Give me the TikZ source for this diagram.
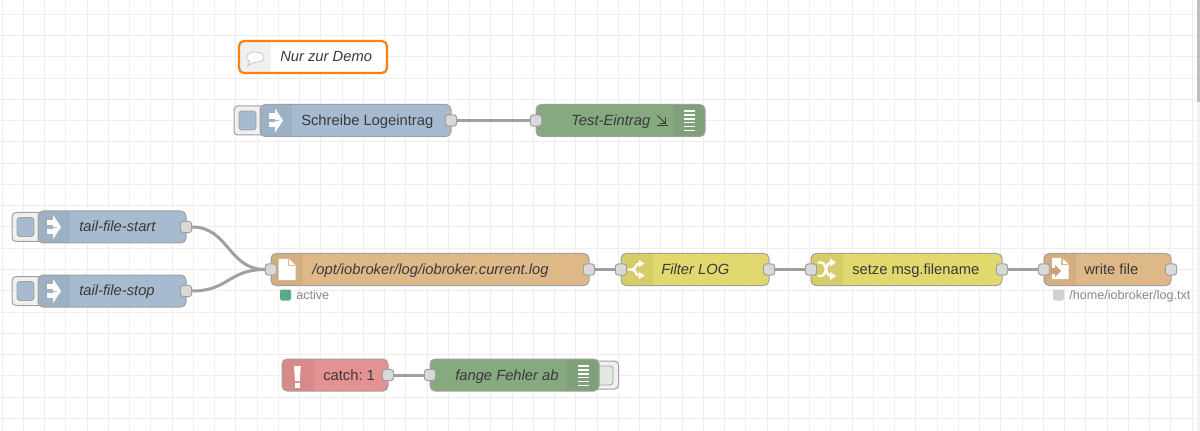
\documentclass[tikz,border=0pt]{standalone}
\usepackage{fontspec}
\setmainfont{Liberation Sans}
\frenchspacing
\definecolor{gridc}{HTML}{EEEEEE}
\definecolor{edgec}{HTML}{A0A0A0}
\definecolor{portc}{HTML}{D9D9D9}
\definecolor{txtc}{HTML}{3A3A3A}
\definecolor{stc}{HTML}{888888}
\definecolor{bluec}{HTML}{A6BBCF}
\definecolor{orgc}{HTML}{DEB887}
\definecolor{yelc}{HTML}{E2D96E}
\definecolor{grnc}{HTML}{87A980}
\definecolor{redc}{HTML}{E49191}
\tikzset{
  flowbody/.style={draw=edgec,line width=0.75pt,rounded corners=3.75pt,inner sep=0pt,outer sep=0pt},
  portbox/.style={draw=edgec,fill=portc,line width=0.75pt,rounded corners=2.4pt,minimum width=8.6pt,minimum height=8.6pt,inner sep=0pt},
  wire/.style={draw=edgec,line width=2.25pt},
  lab/.style={anchor=base west,inner sep=0pt,text=txtc,font=\fontsize{11.06}{13}\selectfont},
  ilab/.style={lab,font=\fontsize{11.06}{13}\selectfont\itshape},
  stlab/.style={anchor=base west,inner sep=0pt,text=stc,font=\fontsize{9.45}{11}\selectfont},
  ico/.style={fill=white,draw=none},
  icol/.style={draw=white,line width=1.3pt,line cap=round},
  stsq/.style={rounded corners=1.5pt,minimum width=8.25pt,minimum height=8.25pt,inner sep=0pt},
  btnout/.style={draw=edgec,fill=white!94!black,line width=0.75pt,rounded corners=3pt},
  btnin/.style={draw=edgec,line width=0.6pt,rounded corners=2.2pt}
}
% name, x1, x2, cy, colour, shade x1, shade x2
\newcommand{\flownode}[7]{%
  \fill[#5,rounded corners=3.75pt] (#2,#4-16) rectangle (#3,#4+16);
  \begin{scope}
    \clip[rounded corners=3.75pt] (#2,#4-16) rectangle (#3,#4+16);
    \fill[black,opacity=0.05] (#6,#4-16) rectangle (#7,#4+16);
  \end{scope}
  \node[flowbody,minimum width={(#3-#2)*0.75pt},minimum height=24pt] (#1) at ({(#2+#3)/2},#4) {};
}
\newcommand{\inject}[2]{% x of body left, cy
  \path[btnout] (#1-26,#2-14.5) rectangle (#1+4,#2+14.5);
  \path[btnin,fill=bluec] (#1-21,#2-9.5) rectangle (#1-4,#2+9.5);
}
\newcommand{\injicon}[2]{% x of icon left, cy
  \fill[ico] (#1+6,#2-12) -- (#1+14,#2) -- (#1+6,#2+12) -- cycle;
  \fill[ico] (#1,#2-7) rectangle (#1+6,#2-1.8);
  \fill[ico] (#1,#2+1.8) rectangle (#1+6,#2+7);
  \draw[draw=bluec,line width=0.5pt] (#1+5.5,#2) -- (#1+10,#2);
}
\newcommand{\dbgicon}[2]{% x left, top y
  \foreach \k in {0,1,2,3,4,5} {\draw[draw=white,line width=1.1pt] (#1,#2+\k*3.9) -- (#1+11,#2+\k*3.9);}
}
\begin{document}
\begin{tikzpicture}[x=0.75pt,y=-0.75pt]
\useasboundingbox (0,0) rectangle (1200,431);
\fill[white] (0,0) rectangle (1200,431);
% grid
\foreach \k in {0,...,56} {\draw[gridc,line width=0.75pt] ({2+21.25*\k},0) -- ({2+21.25*\k},431);}
\foreach \k in {0,...,19} {\draw[gridc,line width=0.75pt] (0,{14.5+21.25*\k}) -- (1200,{14.5+21.25*\k});}
% scrollbar
\fill[white!95!black] (1197,0) rectangle (1200,431);
\fill[black!25] (1197,0) rectangle (1200,102);

% comment
\fill[white,rounded corners=3.75pt] (239,41) rectangle (387,73);
\begin{scope}
  \clip[rounded corners=3.75pt] (239,41) rectangle (387,73);
  \fill[black!6] (239,41) rectangle (271,73);
\end{scope}
\node[draw={rgb,255:red,255;green,127;blue,14},line width=1.6pt,rounded corners=3.75pt,minimum width=111pt,minimum height=24pt,inner sep=0pt] (cmt) at (313,57) {};
\node[ilab] (cmtl) at (280,62) {Nur zur Demo};
\draw[draw=black!20,fill=white,line width=0.7pt] (246.5,57.5) .. controls (246.5,54) and (251,52) .. (255,52) .. controls (260,52) and (264,54) .. (264,57.5) .. controls (264,61) and (259,62.5) .. (254,62.5) -- (247.5,66) -- (250,61.5) .. controls (248,60.5) and (246.5,59) .. (246.5,57.5) -- cycle;

% inject buttons
\inject{260}{120.5}
\inject{38}{227}
\inject{38}{291}
% debug button
\path[btnout] (594,361) rectangle (618.5,389);
\path[btnin,fill=grnc!25!white] (596,366) rectangle (613,385);

\flownode{sl}{260}{451}{120.5}{bluec}{260}{292}
\flownode{te}{536}{705}{120.5}{grnc}{673}{705}
\flownode{ts}{38}{186}{227}{bluec}{38}{70}
\flownode{tp}{38}{186}{291}{bluec}{38}{70}
\flownode{of}{271}{589}{269.5}{orgc}{271}{303}
\flownode{fl}{621}{769}{269.5}{yelc}{621}{653}
\flownode{sm}{811}{1002}{269.5}{yelc}{811}{843}
\flownode{wf}{1044}{1171}{269.5}{orgc}{1044}{1076}
\flownode{ca}{282}{388}{375}{redc}{282}{314}
\flownode{ff}{430}{599}{375}{grnc}{567}{599}

% ports
\node[portbox] (slo) at (451,120.5) {};
\node[portbox] (tei) at (536,120.5) {};
\node[portbox] (tso) at (186,227) {};
\node[portbox] (tpo) at (186,291) {};
\node[portbox] (ofi) at (271,269.5) {};
\node[portbox] (ofo) at (589,269.5) {};
\node[portbox] (fli) at (621,269.5) {};
\node[portbox] (flo) at (769,269.5) {};
\node[portbox] (smi) at (811,269.5) {};
\node[portbox] (smo) at (1002,269.5) {};
\node[portbox] (wfi) at (1044,269.5) {};
\node[portbox] (wfo) at (1171,269.5) {};
\node[portbox] (cao) at (388,375) {};
\node[portbox] (ffi) at (430,375) {};

% connectors
\draw[wire] (slo) -- (tei);
\draw[wire] (ofo) -- (fli);
\draw[wire] (flo) -- (smi);
\draw[wire] (smo) -- (wfi);
\draw[wire] (cao) -- (ffi);
\draw[wire] (tso.east) .. controls +(36,0) and +(-36,0) .. (ofi.west);
\draw[wire] (tpo.east) .. controls +(36,0) and +(-36,0) .. (ofi.west);

% labels
\node[lab] (sll) at (301,125.5) {Schreibe Logeintrag};
\node[ilab] (tel) at (571,125.5) {Test-Eintrag};
\node[ilab] (tsl) at (79,232) {tail-file-start};
\node[ilab] (tpl) at (79,296) {tail-file-stop};
\node[ilab] (ofl) at (312,274.5) {/opt/iobroker/log/iobroker.current.log};
\node[ilab] (fll) at (661,274.5) {Filter LOG};
\node[lab] (sml) at (852,274.5) {setze msg.filename};
\node[lab] (wfl) at (1084,274.5) {write file};
\node[lab] (cal) at (323,380) {catch: 1};
\node[ilab] (ffl) at (455,380) {fange Fehler ab};

% status
\node[stsq,fill={rgb,255:red,90;green,170;blue,136}] (st1) at (285.5,295) {};
\node[stlab] (st1l) at (296,299.5) {active};
\node[stsq,fill=black!18] (st2) at (1058.5,295) {};
\node[stlab] (st2l) at (1069,299.5) {/home/iobroker/log.txt};

% icons
\injicon{269}{120.5}
\injicon{47}{227}
\injicon{47}{291}
\dbgicon{684}{111}
\dbgicon{577.5}{366}
% small arrow glyph after Test-Eintrag
\draw[draw=txtc,line width=0.7pt] (657.5,115.5) -- (665,123);
\draw[draw=txtc,line width=0.7pt] (665.5,117.5) -- (665.5,123.5) -- (659.5,123.5);
\draw[draw=txtc,line width=0.7pt] (656.5,125.5) -- (667.5,125.5);
% file icon (read)
\fill[ico] (278.5,259) -- (289,259) -- (295.5,265.5) -- (295.5,280) -- (278.5,280) -- cycle;
\draw[draw=orgc,line width=0.9pt] (288.5,259.5) -- (288.5,265.5) -- (295,265.5);
% file icon (write)
\fill[ico] (1052,258) -- (1062,258) -- (1068.5,264.5) -- (1068.5,279) -- (1052,279) -- cycle;
\draw[draw=orgc,line width=0.9pt] (1062,258.5) -- (1062,264.5) -- (1068,264.5);
\fill[orgc!90!black] (1049,268) -- (1055,268) -- (1055,265) -- (1061,271) -- (1055,277) -- (1055,274) -- (1049,274) -- cycle;
% switch icon
\draw[icol,line width=1.8pt] (628.5,269.5) -- (632,269.5) .. controls (636,269.5) and (635,263.5) .. (640,263.5);
\draw[icol,line width=1.8pt] (632,269.5) .. controls (636,269.5) and (635,275.5) .. (640,275.5);
\fill[ico] (639,260) -- (644.5,263.5) -- (639,267) -- cycle;
\fill[ico] (639,272) -- (644.5,275.5) -- (639,279) -- cycle;
% change icon
\draw[icol,line width=1.8pt] (818.5,262.5) -- (821,262.5) .. controls (827,262.5) and (825,276) .. (831,276);
\draw[icol,line width=1.8pt] (818.5,276) -- (821,276) .. controls (827,276) and (825,262.5) .. (831,262.5);
\fill[ico] (830,258.5) -- (836,262.5) -- (830,266.5) -- cycle;
\fill[ico] (830,272) -- (836,276) -- (830,280) -- cycle;
% catch icon
\fill[ico] (294,366) -- (300.8,366) -- (299.8,381) -- (295,381) -- cycle;
\fill[ico] (294.8,382.5) rectangle (300,387.5);
\end{tikzpicture}
\end{document}
